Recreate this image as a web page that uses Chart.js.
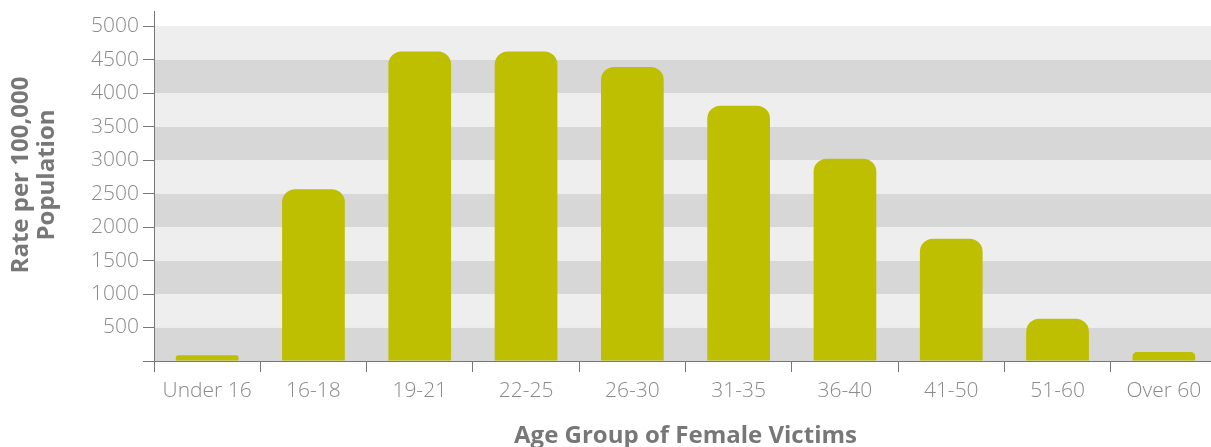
<!DOCTYPE html>
<html>
<head>
<meta charset="utf-8">
<script src="https://cdn.jsdelivr.net/npm/chart.js@4.4.1/dist/chart.umd.min.js"></script>
<style>
  html,body{margin:0;padding:0;background:#fff;overflow:hidden}
  #wrap{width:1211px;height:447px;overflow:hidden;position:relative}
  #c{position:absolute;left:0;top:0}
</style>
</head>
<body>
<div id="wrap"><canvas id="c" width="1217" height="447"></canvas></div>
<script>
/* ── Data ── */
const ageGroups = ['Under 16','16-18','19-21','22-25','26-30','31-35','36-40','41-50','51-60','Over 60'];
const ratePer100k = [85, 2565, 4620, 4620, 4390, 3810, 3020, 1825, 630, 135];
const yTicks = [0, 500, 1000, 1500, 2000, 2500, 3000, 3500, 4000, 4500, 5000];
const yAxisTop = 5225;   // axis line runs a little past the last tick
const yTitleLines = ['Rate per 100,000', 'Population'];

const GREY_AXIS = '#777';
const GREY_TEXT = '#8a8a8a';

/* ── Striped background bands between ticks ── */
const bands = {
  id: 'bands',
  beforeDraw(chart) {
    const { ctx, chartArea: a, scales: { y } } = chart;
    ctx.save();
    for (let i = 0; i < yTicks.length - 1; i++) {
      const top = y.getPixelForValue(yTicks[i + 1]), bot = y.getPixelForValue(yTicks[i]);
      ctx.fillStyle = i % 2 === 0 ? '#d7d7d7' : '#eeeeee';
      ctx.fillRect(a.left, top, a.right - a.left, bot - top);
    }
    ctx.restore();
  }
};

/* ── Two-line rotated y title (sits a bit above the axis middle) ── */
const yTitle = {
  id: 'yTitle',
  afterDraw(chart) {
    const { ctx } = chart;
    ctx.save();
    ctx.translate(0, 175);
    ctx.rotate(-Math.PI / 2);
    ctx.font = 'bold 24px "Open Sans"';
    ctx.fillStyle = GREY_AXIS;
    ctx.textAlign = 'center';
    ctx.textBaseline = 'middle';
    yTitleLines.forEach((t, i) => ctx.fillText(t, 0, 21 + i * 26));
    ctx.restore();
  }
};

new Chart(document.getElementById('c'), {
  type: 'bar',
  data: {
    labels: ageGroups,
    datasets: [{
      data: ratePer100k,
      backgroundColor: '#bdbf00',
      borderRadius: { topLeft: 13, topRight: 13 },
      borderSkipped: 'bottom',
      barPercentage: 0.59,
      categoryPercentage: 1
    }]
  },
  plugins: [bands, yTitle],
  options: {
    responsive: false,
    animation: false,
    layout: { padding: { top: 11 } },
    plugins: { legend: { display: false }, tooltip: { enabled: false } },
    scales: {
      x: {
        offset: true,
        grid: { drawOnChartArea: false, tickLength: 11, color: GREY_AXIS, offset: true },
        border: { color: GREY_AXIS, width: 1 },
        ticks: { color: GREY_TEXT, padding: 6, font: { family: 'Open Sans', size: 21, weight: 300 } },
        title: { display: true, text: 'Age Group of Female Victims', color: GREY_AXIS,
                 padding: { top: 0, bottom: -1 }, font: { family: 'Open Sans', size: 24, weight: 'bold', lineHeight: 1 } },
        afterFit(s) { s.height = 86; }
      },
      y: {
        min: 0, max: yAxisTop,
        afterBuildTicks(s) { s.ticks = yTicks.map(v => ({ value: v })); },
        grid: { drawOnChartArea: false, tickLength: 11, color: GREY_AXIS },
        border: { color: GREY_AXIS, width: 1 },
        ticks: { color: GREY_TEXT, padding: 4,
                 font: { family: 'Open Sans', size: 21, weight: 300 },
                 callback: v => v === 0 ? '' : v },
        afterFit(s) { s.width = 154; s.paddingTop = 0; }
      }
    }
  }
});
</script>
</body>
</html>
